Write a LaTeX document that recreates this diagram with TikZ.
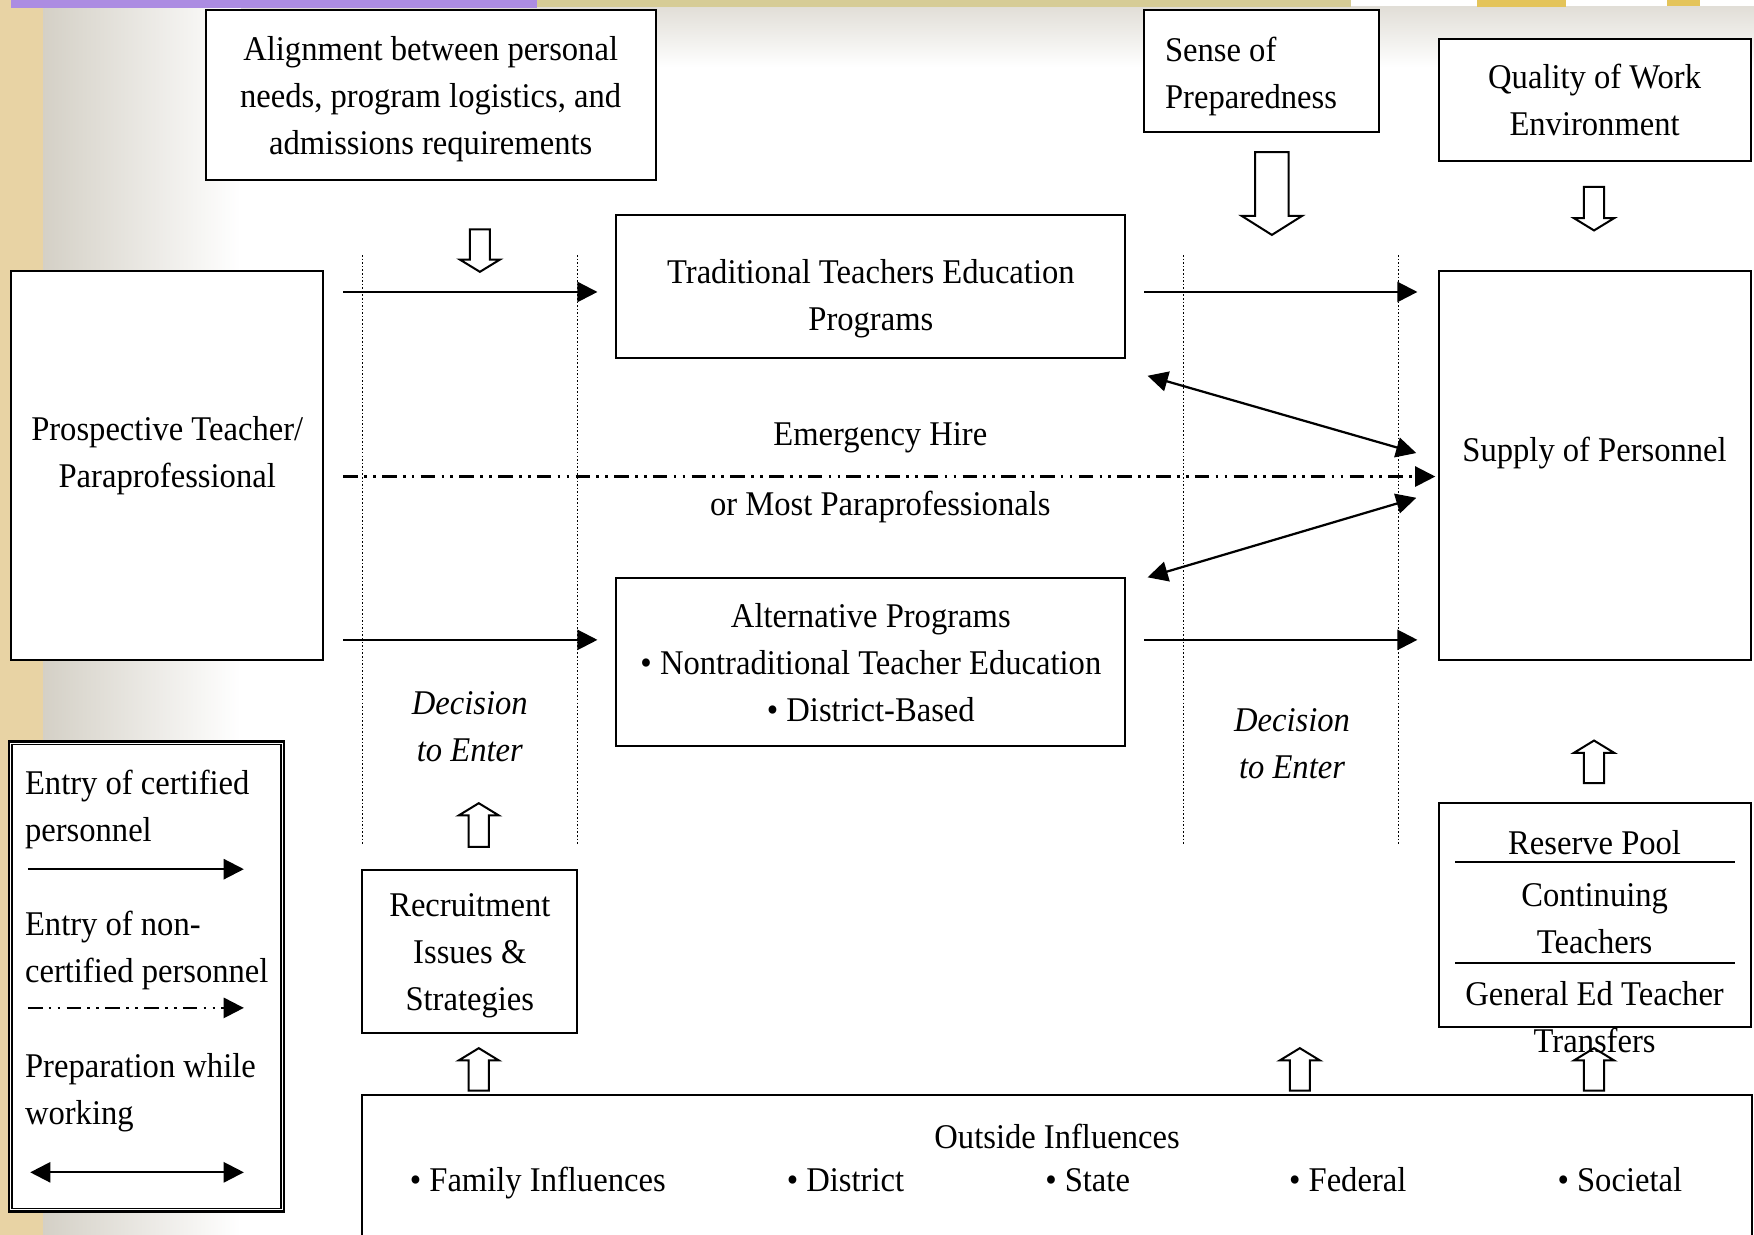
\documentclass[tikz,border=0pt]{standalone}
\usepackage{fontspec}
\setmainfont{Liberation Serif}[FakeStretch=0.94]
\usepackage{tikz}
\usetikzlibrary{shapes,arrows,arrows.meta}

\definecolor{beige}{RGB}{232,211,164}
\definecolor{warmgray}{RGB}{212,208,198}
\definecolor{bandpurple}{RGB}{172,140,226}
\definecolor{bandyellow}{RGB}{214,204,150}
\definecolor{bandgold}{RGB}{228,196,90}

\tikzset{
  box/.style={draw, line width=0.9pt, fill=white, align=center, inner sep=0pt},
  txt/.style={inner sep=0pt, align=center},
  deci/.style={txt, font=\fontsize{15.5pt}{21pt}\selectfont\itshape},
  entry/.style={line width=1pt, -{Triangle[length=9pt,width=9pt]}},
  nonentry/.style={entry, dash pattern=on 6.5pt off 2.8pt on 1.2pt off 2.8pt on 1.2pt off 2.8pt},
  prep/.style={line width=1pt, {Triangle[length=9pt,width=9pt]}-{Triangle[length=9pt,width=9pt]}},
  gate/.style={line width=0.6pt, dash pattern=on 0.7pt off 0.9pt},
  hollow/.style={draw, fill=white, line width=0.9pt, line join=miter}
}

% hollow block arrows: x, start, tip, shaft half, head half, head length
\newcommand{\arrdown}[6]{\draw[hollow] (#1-#4,#2) -- (#1+#4,#2) -- (#1+#4,#3-#6) -- (#1+#5,#3-#6) -- (#1,#3) -- (#1-#5,#3-#6) -- (#1-#4,#3-#6) -- cycle;}
\newcommand{\arrup}[6]{\draw[hollow] (#1,#2) -- (#1+#5,#2+#6) -- (#1+#4,#2+#6) -- (#1+#4,#3) -- (#1-#4,#3) -- (#1-#4,#2+#6) -- (#1-#5,#2+#6) -- cycle;}

\begin{document}
\begin{tikzpicture}[x=0.5pt,y=-0.5pt,every node/.append style={font=\fontsize{15.5pt}{21pt}\selectfont}]
% backdrop
\useasboundingbox (0,0) rectangle (1568,1104);
\fill[white] (0,0) rectangle (1568,1104);
\shade[top color=warmgray!70, bottom color=white] (38,6) rectangle (1568,60);
\shade[left color=warmgray, right color=white] (38,0) rectangle (215,1104);
\fill[beige] (0,0) rectangle (38,1104);
\fill[bandpurple] (10,0) rectangle (480,7);
\fill[bandyellow] (480,0) rectangle (1208,6);
\fill[bandgold] (1320,0) rectangle (1400,6);
\fill[bandgold] (1490,0) rectangle (1520,5);
\clip (0,0) rectangle (1568,1104);

% decision gates
\foreach \gx in {324,516,1058,1250}
  \draw[gate] (\gx,228) -- (\gx,755);

% block arrows
\arrdown{429}{205}{243}{9}{18}{11}
\arrdown{1425}{167}{206}{9}{18}{11}
\arrdown{1137}{136}{210}{15}{27}{17}
\arrup{428}{718}{757}{9}{18}{11}
\arrup{1425}{662}{700}{9}{18}{11}
\arrup{428}{937}{975}{9}{18}{11}
\arrup{1162}{937}{975}{9}{18}{11}
\arrup{1425}{937}{975}{9}{18}{11}

% boxes
\node[box, minimum width=201pt, minimum height=76pt, label={[txt, yshift=-2pt]center:Alignment between personal\\needs, program logistics, and\\admissions requirements}] (align) at (385,85) {};
\node[box, minimum width=105pt, minimum height=54.5pt] (sense) at (1128,63.5) {};
\node[txt, align=left, anchor=west] (senseT) at ([xshift=9.5pt,yshift=-2.5pt]sense.west) {Sense of\\Preparedness};
\node[box, minimum width=139.5pt, minimum height=54.5pt] (quality) at (1425.5,89.5) {Quality of Work\\Environment};
\node[box, minimum width=139.5pt, minimum height=174pt, label={[txt, yshift=4.25pt]center:Prospective Teacher/\\Paraprofessional}] (prosp) at (149.5,416) {};
\node[box, minimum width=227.5pt, minimum height=64pt, label={[txt, yshift=-5.5pt]center:Traditional Teachers Education\\Programs}] (trad) at (778.5,256) {};
\node[box, minimum width=139.5pt, minimum height=174pt, label={[txt, yshift=5.5pt]center:Supply of Personnel}] (supply) at (1425.5,416) {};
\node[box, minimum width=227.5pt, minimum height=75pt] (alt) at (778.5,592) {Alternative Programs\\\textbullet\ Nontraditional Teacher Education\\\textbullet\ District-Based};
\node[box, minimum width=96pt, minimum height=72.5pt, label={[txt, yshift=-2pt]center:Recruitment\\Issues \&\\Strategies}] (recruit) at (420,850.5) {};
\node[box, minimum width=139.5pt, minimum height=100pt] (pool) at (1425.5,818) {};
\node[box, minimum width=621pt, minimum height=68pt] (outside) at (945,1047) {};
\node[box, minimum width=123pt, minimum height=210pt, line width=1.2pt] (legend) at (131,873) {};
\draw[line width=0.6pt] ([shift={(4,4)}]legend.north west) rectangle ([shift={(-4,-4)}]legend.south east);

% reserve pool
\node[txt] (poolA) at (1425.5,753) {Reserve Pool};
\node[txt] (poolB) at (1425.5,821) {Continuing\\Teachers};
\node[txt] (poolC) at (1425.5,909.5) {General Ed Teacher\\Transfers};
\draw[line width=0.9pt] (1301,771) -- (1551,771);
\draw[line width=0.9pt] (1301,861) -- (1551,861);

% outside influences
\node[txt] (outT) at (945,1016) {Outside Influences};
\node[txt, anchor=base west] (outFam) at (366,1065) {\textbullet\ Family Influences};
\node[txt, anchor=base west] (outDis) at (703,1065) {\textbullet\ District};
\node[txt, anchor=base west] (outSta) at (934,1065) {\textbullet\ State};
\node[txt, anchor=base west] (outFed) at (1152,1065) {\textbullet\ Federal};
\node[txt, anchor=base west] (outSoc) at (1392,1065) {\textbullet\ Societal};

% flows
\coordinate (rowT) at (0,261);
\coordinate (rowM) at (0,426);
\coordinate (rowB) at (0,572);
\draw[entry, shorten <=8.5pt, shorten >=8pt] (prosp.east |- rowT) -- (trad.west |- rowT);
\draw[entry, shorten <=8.5pt, shorten >=8pt] (prosp.east |- rowB) -- (alt.west |- rowB);
\draw[entry, shorten <=8pt, shorten >=9pt] (trad.east |- rowT) -- (supply.west |- rowT);
\draw[entry, shorten <=8pt, shorten >=9pt] (alt.east |- rowB) -- (supply.west |- rowB);
\draw[nonentry, shorten <=8.5pt, shorten >=1pt] (prosp.east |- rowM) -- (supply.west |- rowM);
\draw[prep] ([shift={(19,15)}]trad.south east) -- ([shift={(-19,-11)}]supply.west);
\draw[prep] ([shift={(19,0)}]alt.north east) -- ([shift={(-19,29)}]supply.west);

\node[txt] (emerg) at (787,391) {Emergency Hire};
\node[txt] (para) at (787,453) {or Most Paraprofessionals};
\node[deci] (decA) at (420,650) {Decision\\to Enter};
\node[deci] (decB) at (1155,664.5) {Decision\\to Enter};

% legend
\node[txt, anchor=west, align=left] (legA) at (22,724) {Entry of certified\\personnel};
\node[txt, anchor=west, align=left] (legB) at (22,850) {Entry of non-\\certified personnel};
\node[txt, anchor=west, align=left] (legC) at (22,977) {Preparation while\\working};
\coordinate (legA1) at (25,777);
\coordinate (legA2) at (218,777);
\coordinate (legB1) at (25,901);
\coordinate (legB2) at (218,901);
\coordinate (legC1) at (27,1048);
\coordinate (legC2) at (218,1048);
\draw[entry] (legA1) -- (legA2);
\draw[nonentry] (legB1) -- (legB2);
\draw[prep] (legC1) -- (legC2);
\end{tikzpicture}
\end{document}
